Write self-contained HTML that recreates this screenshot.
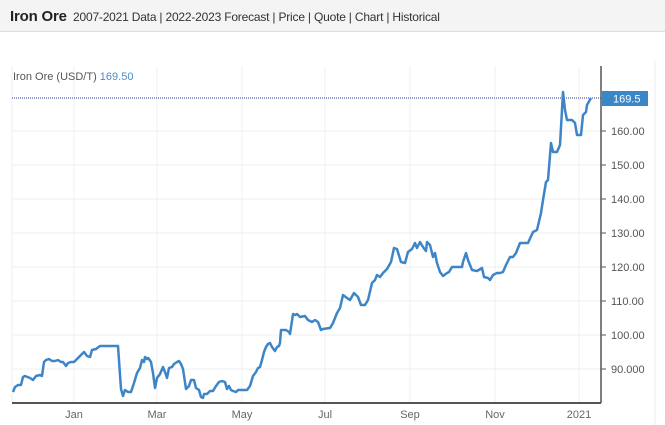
<!DOCTYPE html>
<html><head><meta charset="utf-8"><style>
body{margin:0;width:665px;height:425px;overflow:hidden;background:#fff;font-family:"Liberation Sans",sans-serif}
.hdr{position:absolute;left:0;top:0;width:665px;height:31px;background:#f4f4f4;border-bottom:1px solid #ddd}
.hdr span.t{font-weight:bold;font-size:15px;color:#222}
.hdr div{position:absolute;left:10px;top:8px;font-size:12px;color:#333;white-space:nowrap;letter-spacing:-0.2px}
</style></head><body>
<div class="hdr"><div><span class="t">Iron Ore</span>&nbsp; 2007-2021 Data | 2022-2023 Forecast | Price | Quote | Chart | Historical</div></div>
<svg width="665" height="425" style="position:absolute;left:0;top:0" font-family="Liberation Sans, sans-serif">
<line x1="655" y1="60" x2="655" y2="425" stroke="#eee"/>
<g stroke="#efefef" stroke-width="1">
<line x1="12" y1="369" x2="601" y2="369"/><line x1="12" y1="335" x2="601" y2="335"/><line x1="12" y1="301" x2="601" y2="301"/><line x1="12" y1="267" x2="601" y2="267"/><line x1="12" y1="233" x2="601" y2="233"/><line x1="12" y1="199" x2="601" y2="199"/><line x1="12" y1="165" x2="601" y2="165"/><line x1="12" y1="131" x2="601" y2="131"/>
<line x1="74" y1="66" x2="74" y2="403"/><line x1="157" y1="66" x2="157" y2="403"/><line x1="242" y1="66" x2="242" y2="403"/><line x1="325" y1="66" x2="325" y2="403"/><line x1="410" y1="66" x2="410" y2="403"/><line x1="495" y1="66" x2="495" y2="403"/><line x1="579" y1="66" x2="579" y2="403"/>
<line x1="12" y1="66" x2="12" y2="403"/>
</g>
<text x="13" y="80" font-size="11" fill="#555">Iron Ore (USD/T) <tspan fill="#4a8cc4">169.50</tspan></text>
<line x1="12" y1="98" x2="601" y2="98" stroke="#2b3a9c" stroke-width="1" stroke-dasharray="1,1"/>
<polyline fill="none" stroke="#3d85c6" stroke-width="2.5" stroke-linejoin="round" points="13,392 15,387 18,385 21,385 23,377 25,376 30,378 33,380 36,376 40,375 42,376 44,362 46,360 49,359 52,361 55,361 58,360 61,362 63,362 66,366 68,363 71,362 74,362 78,358 81,355 84,352 87,356 90,357 92,350 96,349 100,346 105,346 110,346 115,346 118,346 121,389 123,396 125,390 128,392 131,392 134,383 137,373 140,368 142,360 144,362 145,357 147,359 148,358 149,359 151,362 153,373 155,388 157,378 160,374 163,367 165,372 167,378 169,368 172,367 174,364 177,362 179,361 181,364 183,369 186,389 189,386 191,380 194,380 196,388 199,390 201,397 203,398 204,394 207,394 210,391 213,391 216,386 219,382 222,381 225,382 227,389 229,386 231,390 233,391 236,392 238,390 242,390 245,390 247,390 250,386 253,376 256,372 258,368 260,367 262,360 264,352 266,347 268,344 270,343 272,347 275,351 277,347 279,346 280,343 281,330 282,330 286,330 289,332 290,334 293,314 295,315 297,314 300,317 305,316 308,320 312,322 315,320 318,322 321,330 323,329 330,328 333,323 337,313 340,308 343,295 347,298 350,300 354,293 358,297 361,305 365,305 368,300 372,283 375,280 377,275 380,277 383,273 387,269 391,262 394,248 397,249 401,262 405,263 408,252 412,249 415,243 417,248 420,242 423,247 426,251 427,242 430,245 433,257 435,253 437,263 440,272 443,276 447,273 449,272 452,267 462,267 463,262 466,253 468,260 472,270 477,271 482,268 484,277 488,278 490,280 493,275 497,273 500,273 503,272 506,265 510,257 513,257 516,253 520,243 528,243 533,232 537,230 541,213 543,200 546,182 548,180 551,143 553,152 557,152 560,145 562,110 563,92 565,110 567,120 572,120 575,123 577,135 581,135 583,115 586,112 587,105 591,98"/>
<line x1="12" y1="403" x2="601" y2="403" stroke="#555" stroke-width="2"/>
<line x1="601" y1="66" x2="601" y2="403" stroke="#555" stroke-width="1.5"/>
<g stroke="#555"><line x1="601" y1="369" x2="606" y2="369"/><line x1="601" y1="335" x2="606" y2="335"/><line x1="601" y1="301" x2="606" y2="301"/><line x1="601" y1="267" x2="606" y2="267"/><line x1="601" y1="233" x2="606" y2="233"/><line x1="601" y1="199" x2="606" y2="199"/><line x1="601" y1="165" x2="606" y2="165"/><line x1="601" y1="131" x2="606" y2="131"/></g>
<g font-size="11" fill="#555">
<text x="611" y="373">90.000</text><text x="611" y="339">100.00</text><text x="611" y="305">110.00</text><text x="611" y="271">120.00</text><text x="611" y="237">130.00</text><text x="611" y="203">140.00</text><text x="611" y="169">150.00</text><text x="611" y="135">160.00</text>
</g>
<rect x="602" y="91" width="46" height="15" fill="#3a87c8"/>
<text x="613" y="102.5" font-size="11" fill="#fff">169.5</text>
<g font-size="11" fill="#666" text-anchor="middle">
<text x="74" y="418">Jan</text><text x="157" y="418">Mar</text><text x="242" y="418">May</text><text x="325" y="418">Jul</text><text x="410" y="418">Sep</text><text x="495" y="418">Nov</text><text x="579" y="418">2021</text>
</g>
</svg>
</body></html>
